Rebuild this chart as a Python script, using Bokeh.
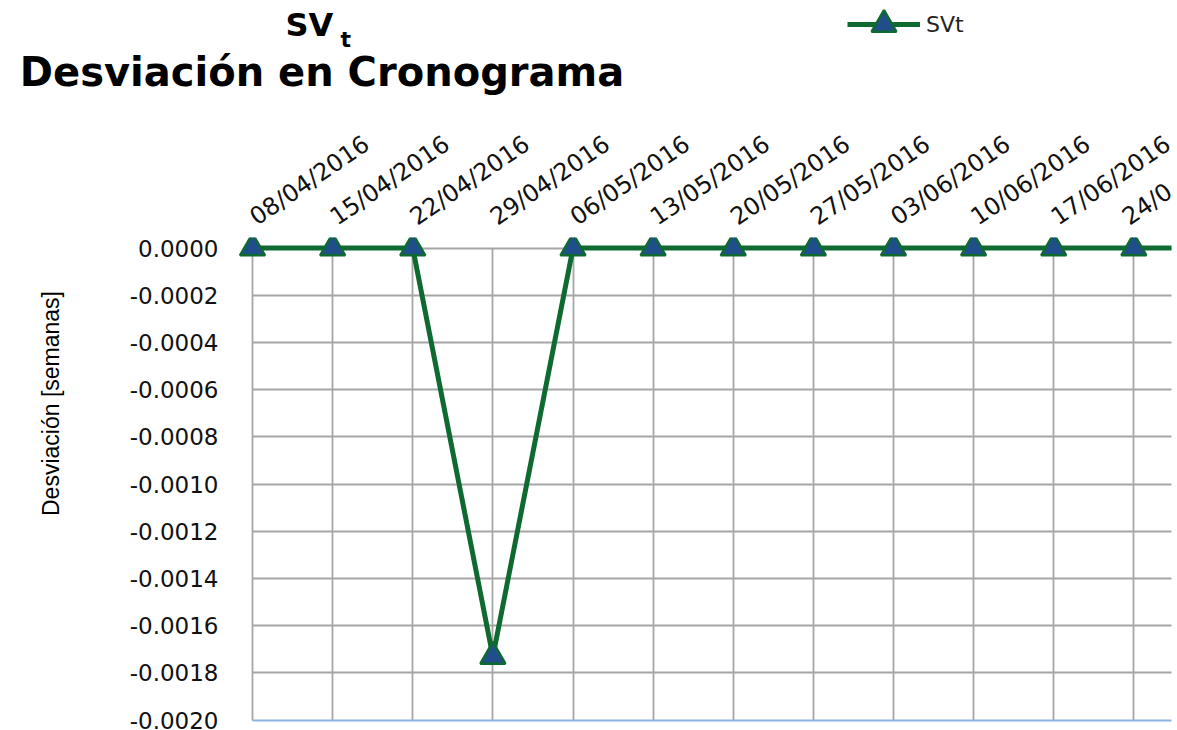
from bokeh.plotting import figure
from bokeh.models import (Range1d, FixedTicker, NumeralTickFormatter, Label, Legend,
                          LegendItem, ColumnDataSource, Grid)
from bokeh.layouts import column, row
from bokeh.embed import file_html
from bokeh.resources import INLINE
import math

# ---------------- data ----------------
dates = ["08/04/2016", "15/04/2016", "22/04/2016", "29/04/2016", "06/05/2016",
         "13/05/2016", "20/05/2016", "27/05/2016", "03/06/2016", "10/06/2016",
         "17/06/2016", "24/06/2016", "01/07/2016"]
svt = [0.0, 0.0, 0.0, -0.00173, 0.0, 0.0, 0.0, 0.0, 0.0, 0.0, 0.0, 0.0, 0.0]
y_ticks = [0.0, -0.0002, -0.0004, -0.0006, -0.0008, -0.0010,
           -0.0012, -0.0014, -0.0016, -0.0018, -0.0020]
# the last visible date label is cut by the chart's right edge
tick_labels = dates[:11] + ["24/0", ""]
series_name = "SVt"
title_main = "SV"
title_sub = "t"
title_line2 = "Desviación en Cronograma"
y_title = "Desviación [semanas]"

idx = list(range(len(dates)))
src = ColumnDataSource(dict(x=idx, y=svt, label=dates))

GREEN = "#0E6A30"
NAVY = "#1F4E8A"
GRID = "#A6A6A6"
FONT = "DejaVu Sans"

W, H = 1177, 730
HH = 110      # header height (title + legend)
YW = 100      # width of the y-title strip


def blank(width, height, xr, yr):
    f = figure(width=width, height=height, output_backend="svg", toolbar_location=None,
               x_axis_type=None, y_axis_type=None, x_range=xr, y_range=yr,
               min_border=0, min_border_left=0, min_border_right=0,
               min_border_top=0, min_border_bottom=0)
    f.outline_line_color = None
    f.xgrid.visible = False
    f.ygrid.visible = False
    return f


# ---------------- header: title + legend ----------------
# the series is drawn here off-view only so that the legend has its glyphs
head = blank(W, HH, Range1d(100, 101), Range1d(100, 101))
hl = head.line("x", "y", source=src, line_color=GREEN, line_width=5)
hs = head.scatter("x", "y", source=src, marker="triangle", size=25,
                  fill_color=NAVY, line_color=GREEN, line_width=2.5)
legend = Legend(items=[LegendItem(label=series_name, renderers=[hl, hs])],
                location=(847, HH - 24 - 31), orientation="horizontal",
                glyph_width=73, glyph_height=62, padding=0, margin=0,
                label_standoff=6, border_line_color=None,
                background_fill_alpha=0, label_text_font=FONT,
                label_text_font_size="22px", label_text_color="#222222")
head.add_layout(legend, "center")

head.add_layout(Label(x=285, y=HH - 38 + 14, x_units="screen", y_units="screen",
                      text=title_main, text_font=FONT, text_font_style="bold",
                      text_font_size="32px", text_color="black",
                      text_align="left", text_baseline="alphabetic"))
head.add_layout(Label(x=340, y=HH - 47 + 8, x_units="screen", y_units="screen",
                      text=title_sub, text_font=FONT, text_font_style="bold",
                      text_font_size="22px", text_color="black",
                      text_align="left", text_baseline="alphabetic"))
head.add_layout(Label(x=321.5, y=HH - 85 + 14, x_units="screen", y_units="screen",
                      text=title_line2, text_font=FONT, text_font_style="bold",
                      text_font_size="40px", text_color="black",
                      text_align="center", text_baseline="alphabetic"))

# ---------------- y title strip ----------------
ystrip = blank(YW, H - HH, Range1d(0, 1), Range1d(0, 1))
ystrip.add_layout(Label(x=50, y=(H - HH) - (402 - HH) - 9, x_units="screen", y_units="screen",
                        text=y_title, angle=math.pi / 2,
                        text_font="Liberation Sans",
                        text_font_size="23px", text_color="black",
                        text_align="center", text_baseline="middle"))

# ---------------- main chart ----------------
p = figure(width=W - YW, height=H - HH, output_backend="svg", toolbar_location=None,
           x_range=Range1d(-0.175, 11.47), y_range=Range1d(-0.00201, 0.000045),
           x_axis_location="above",
           min_border_left=238 - YW, min_border_right=6, min_border_top=237 - HH,
           min_border_bottom=8)
p.outline_line_color = None

line_r = p.line("x", "y", source=src, line_color=GREEN, line_width=5)
scat_r = p.scatter("x", "y", source=src, marker="triangle", size=25,
                   fill_color=NAVY, line_color=GREEN, line_width=2.5)

xa = p.xaxis[0]
xa.ticker = FixedTicker(ticks=idx)
xa.major_label_overrides = {i: t for i, t in zip(idx, tick_labels)}
xa.major_label_orientation = 0.6
xa.major_label_text_font = FONT
xa.major_label_text_font_size = "24px"
xa.major_label_text_color = "#111111"
xa.major_label_standoff = 18
xa.axis_line_color = None
xa.major_tick_in = 0
xa.major_tick_out = 0
xa.minor_tick_in = 0
xa.minor_tick_out = 0

ya = p.yaxis[0]
ya.ticker = FixedTicker(ticks=y_ticks)
ya.formatter = NumeralTickFormatter(format="0.0000")
ya.major_label_text_font = FONT
ya.major_label_text_font_size = "23px"
ya.major_label_text_color = "#111111"
ya.major_label_standoff = 20
ya.axis_line_color = None
ya.major_tick_in = 0
ya.major_tick_out = 0
ya.minor_tick_in = 0
ya.minor_tick_out = 0

p.xgrid.grid_line_color = GRID
p.xgrid.grid_line_width = 1.8
p.xgrid.cross_bounds = (y_ticks[-1], y_ticks[0])
p.ygrid.grid_line_color = GRID
p.ygrid.grid_line_width = 1.8
p.ygrid.cross_bounds = (0, len(dates))
p.ygrid.ticker = FixedTicker(ticks=y_ticks[:-1])

bottom_line = Grid(dimension=1, ticker=FixedTicker(ticks=[y_ticks[-1]]),
                   grid_line_color="#8EB4E3", grid_line_width=2.2,
                   cross_bounds=(0, len(dates)))
p.add_layout(bottom_line)

layout = column(head, row(ystrip, p, spacing=0), spacing=0)
open("out.html", "w").write(file_html(layout, INLINE))
